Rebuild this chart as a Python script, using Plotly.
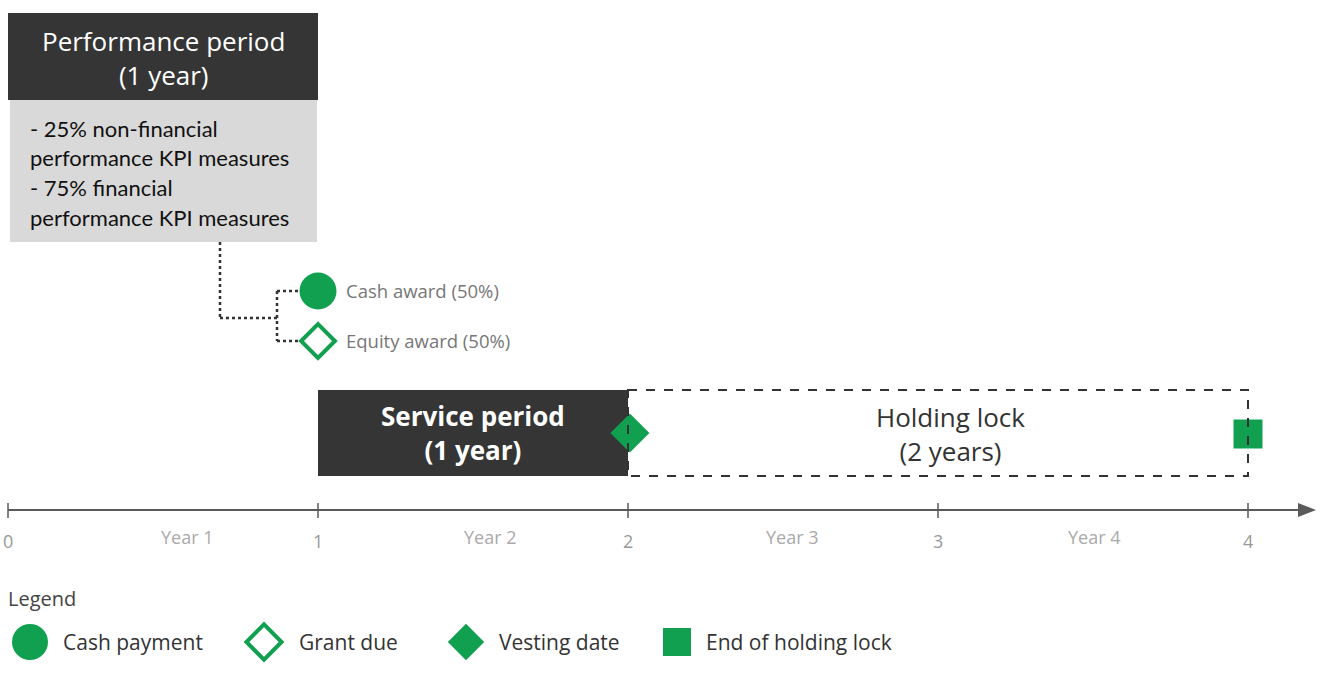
import plotly.graph_objects as go

# timeline data (in years)
year_ticks = [0, 1, 2, 3, 4]
tick_labels = ["0", "1", "2", "3", "4"]
year_labels = ["Year 1", "Year 2", "Year 3", "Year 4"]
year_label_pos = [0.578, 1.555, 2.532, 3.506]

perf_period = [0, 1]
service_period = [1, 2]
holding_lock = [2, 4]
award_year = 1
vesting_year = 2
lock_end_year = 4

perf_kpis = ["- 25% non-financial", "performance KPI measures",
             "- 75% financial", "performance KPI measures"]
award_labels = ["Cash award (50%)", "Equity award (50%)"]
legend_names = ["Cash payment", "Grant due", "Vesting date", "End of holding lock"]

GREEN = "#11a04f"
DARK = "#353535"
HEAD = "Open Sans"
BODY = "Lato"

PX = 310.0  # pixels per year


def yr(px):
    return (px - 8) / PX


fig = go.Figure()
shapes = []
ann = []

# Performance period header + KPI box
shapes.append(dict(type="rect", x0=perf_period[0], x1=perf_period[1], y0=13, y1=100,
                   fillcolor=DARK, line=dict(width=0), layer="below"))
shapes.append(dict(type="rect", x0=yr(10), x1=yr(317), y0=100, y1=242,
                   fillcolor="#d9d9d9", line=dict(width=0), layer="below"))
mid = sum(perf_period) / 2
ann.append(dict(x=mid, y=58, text="Performance period<br>(1 year)", showarrow=False,
                font=dict(family=HEAD, size=26, color="white")))
for i, t in enumerate(perf_kpis):
    ann.append(dict(x=yr(28), y=128 + i * 29.7, text=t, showarrow=False, xanchor="left",
                    font=dict(family=BODY, size=22, color="#111")))

# dotted connector
dot = dict(color="#333", width=2.5, dash="dot")
for (a, b, c, d) in [(220, 242, 220, 318), (220, 318, 277, 318), (277, 291, 277, 341),
                     (277, 291, 300, 291), (277, 341, 300, 341)]:
    shapes.append(dict(type="line", x0=yr(a), y0=b, x1=yr(c), y1=d, line=dot))

# awards
fig.add_trace(go.Scatter(x=[award_year], y=[291], mode="markers", hoverinfo="skip",
                         marker=dict(symbol="circle", size=37, color=GREEN)))
fig.add_trace(go.Scatter(x=[award_year], y=[341], mode="markers", hoverinfo="skip",
                         marker=dict(symbol="diamond-open", size=26, color=GREEN,
                                     line=dict(width=4, color=GREEN))))
for i, t in enumerate(award_labels):
    ann.append(dict(x=yr(344), y=290 + i * 50, text=t, showarrow=False, xanchor="left",
                    font=dict(family="Open Sans", size=18.5, color="#777")))

# service period
shapes.append(dict(type="rect", x0=service_period[0], x1=service_period[1], y0=390, y1=476,
                   fillcolor=DARK, line=dict(width=0), layer="below"))
smid = sum(service_period) / 2
ann.append(dict(x=smid, y=433, text="<b>Service period<br>(1 year)</b>", showarrow=False,
                font=dict(family=HEAD, size=26, color="white")))

# holding lock
shapes.append(dict(type="rect", x0=holding_lock[0], x1=holding_lock[1], y0=390, y1=476,
                   fillcolor="rgba(0,0,0,0)", line=dict(color="#333", width=2, dash="dash")))
hmid = sum(holding_lock) / 2 + 0.04
ann.append(dict(x=hmid, y=434, text="Holding lock<br>(2 years)", showarrow=False,
                font=dict(family=HEAD, size=26, color="#333")))

fig.add_trace(go.Scatter(x=[vesting_year + 0.006], y=[433], mode="markers", hoverinfo="skip",
                         marker=dict(symbol="diamond", size=30, color=GREEN)))
fig.add_trace(go.Scatter(x=[lock_end_year], y=[434], mode="markers", hoverinfo="skip",
                         marker=dict(symbol="square", size=29, color=GREEN)))

# timeline axis
axc = "#5a5a5a"
shapes.append(dict(type="line", x0=year_ticks[0], x1=yr(1300), y0=510, y1=510,
                   line=dict(color=axc, width=2)))
shapes.append(dict(type="path",
                   path=f"M {yr(1298)},503 L {yr(1316)},510 L {yr(1298)},517 Z",
                   fillcolor=axc, line=dict(width=0)))
for t, lab in zip(year_ticks, tick_labels):
    shapes.append(dict(type="line", x0=t, x1=t, y0=503, y1=518,
                       line=dict(color=axc, width=1.5)))
    ann.append(dict(x=t, y=541, text=lab, showarrow=False,
                    font=dict(family="Open Sans", size=18, color="#999")))
for p, lab in zip(year_label_pos, year_labels):
    ann.append(dict(x=p, y=537, text=lab, showarrow=False,
                    font=dict(family="Open Sans", size=18, color="#aaa")))

# legend
ann.append(dict(x=yr(6), y=598, text="Legend", showarrow=False, xanchor="left",
                font=dict(family=HEAD, size=20, color="#444")))
leg_sym = ["circle", "diamond-open", "diamond", "square"]
leg_size = [36, 27, 28, 28]
leg_x = [30, 264, 466, 677]
leg_tx = [61, 297, 497, 704]
for s, sz, lx, tx, name in zip(leg_sym, leg_size, leg_x, leg_tx, legend_names):
    fig.add_trace(go.Scatter(x=[yr(lx)], y=[642], mode="markers", hoverinfo="skip",
                             marker=dict(symbol=s, size=sz, color=GREEN,
                                         line=dict(width=4 if "open" in s else 0, color=GREEN))))
    ann.append(dict(x=yr(tx), y=642, text=name, showarrow=False, xanchor="left",
                    font=dict(family=HEAD, size=21, color="#333")))

fig.update_layout(
    width=1328, height=674,
    margin=dict(l=0, r=0, t=0, b=0),
    paper_bgcolor="white", plot_bgcolor="white",
    showlegend=False,
    xaxis=dict(range=[yr(0), yr(1328)], visible=False, fixedrange=True),
    yaxis=dict(range=[674, 0], visible=False, fixedrange=True),
    shapes=shapes, annotations=ann,
)

# drop the default page margin so the figure sits at the window's corner
fig.write_html("out.html", config={"displayModeBar": False},
               post_script="document.body.style.margin='0';")
